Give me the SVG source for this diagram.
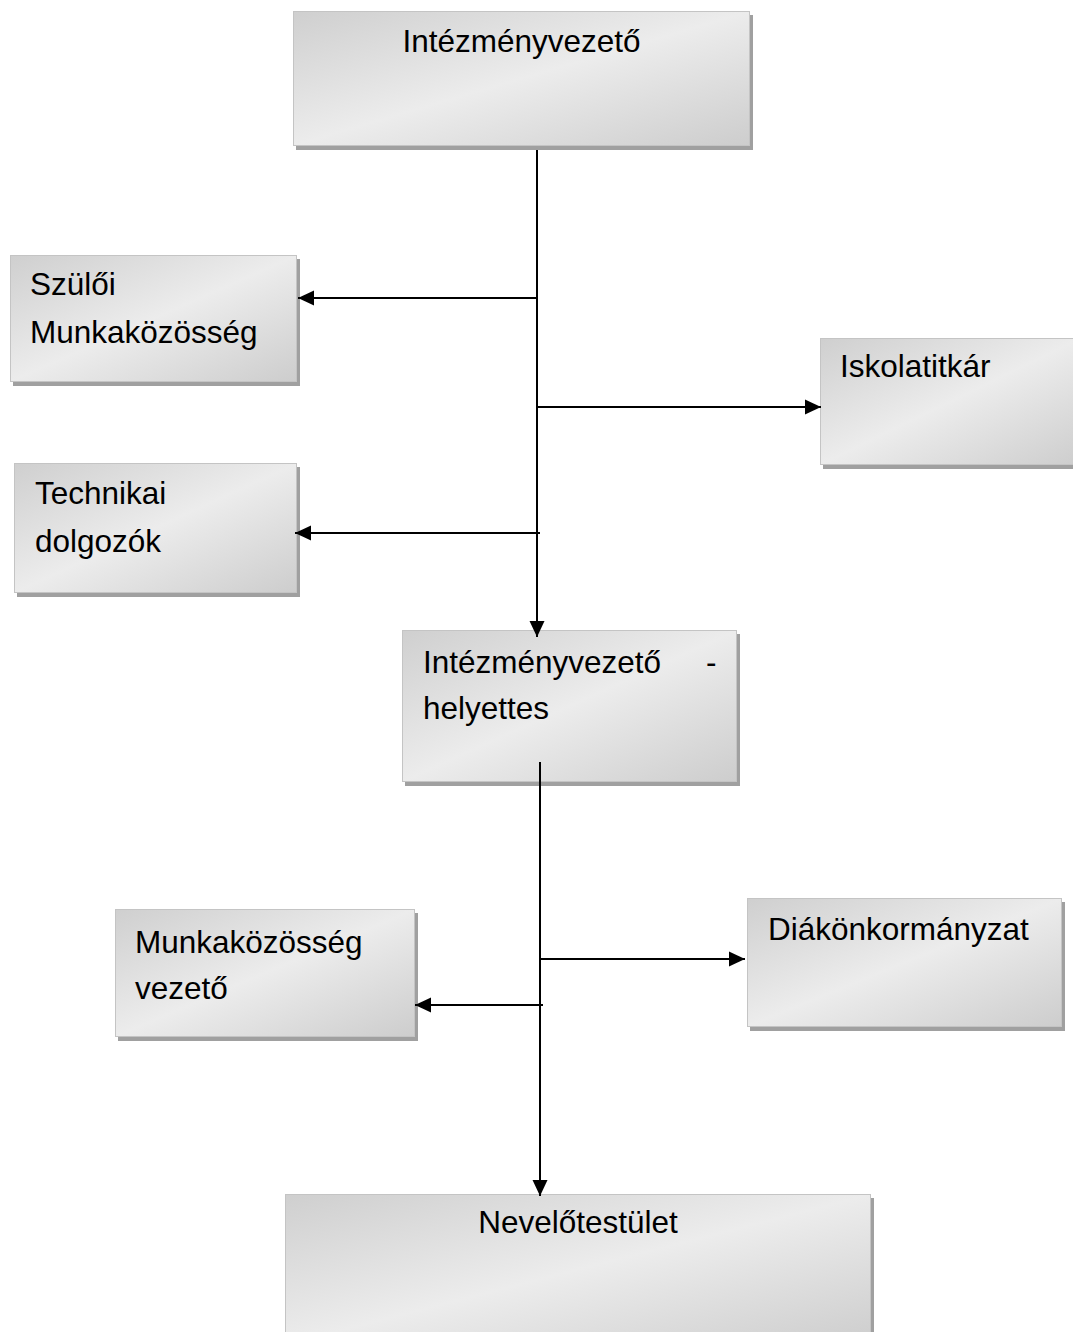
<svg xmlns="http://www.w3.org/2000/svg" width="1073" height="1332" viewBox="0 0 1073 1332">
<style>
.box{fill:url(#g);stroke:#c4c4c4;stroke-width:1}
.sh{fill:#a0a0a0}
.t{font-family:"Liberation Sans",Arial,sans-serif;font-size:31.5px;fill:#000}
.c{stroke:#000;stroke-width:2;fill:none;marker-end:url(#a)}
</style>
<defs>
<linearGradient id="g" x1="0" y1="0" x2="1" y2="1">
<stop offset="0" stop-color="#cfcfcf"/>
<stop offset="0.5" stop-color="#ececec"/>
<stop offset="1" stop-color="#cdcdcd"/>
</linearGradient>
<marker id="a" markerUnits="userSpaceOnUse" markerWidth="18" markerHeight="18" viewBox="0 0 18 18" refX="16" refY="9" orient="auto">
<path d="M0 1.5 L16 9 L0 16.5 Z" fill="#000"/>
</marker>
</defs>
<rect width="1073" height="1332" fill="#fff"/>
<g id="n1">
<rect class="sh" x="296" y="15" width="457" height="135"/>
<rect class="box" x="293.5" y="11.5" width="456" height="134"/>
<text class="t" x="521.5" y="52" text-anchor="middle">Intézményvezető</text>
</g>
<g id="n2">
<rect class="sh" x="13" y="259" width="287" height="127"/>
<rect class="box" x="10.5" y="255.5" width="286" height="126"/>
<text class="t" x="30" y="295">Szülői</text>
<text class="t" x="30" y="343">Munkaközösség</text>
</g>
<g id="n3">
<rect class="sh" x="823" y="342" width="260" height="127"/>
<rect class="box" x="820.5" y="338.5" width="260" height="126"/>
<text class="t" x="840" y="377">Iskolatitkár</text>
</g>
<g id="n4">
<rect class="sh" x="17" y="467" width="283" height="130"/>
<rect class="box" x="14.5" y="463.5" width="282" height="129"/>
<text class="t" x="35" y="504">Technikai</text>
<text class="t" x="35" y="552">dolgozók</text>
</g>
<g id="n5">
<rect class="sh" x="405" y="634" width="335" height="152"/>
<rect class="box" x="402.5" y="630.5" width="334" height="151"/>
<text class="t" x="423" y="673">Intézményvezető</text>
<text class="t" x="706" y="673">-</text>
<text class="t" x="423" y="719">helyettes</text>
</g>
<g id="n6">
<rect class="sh" x="118" y="913" width="300" height="128"/>
<rect class="box" x="115.5" y="909.5" width="299" height="127"/>
<text class="t" x="135" y="953">Munkaközösség</text>
<text class="t" x="135" y="999">vezető</text>
</g>
<g id="n7">
<rect class="sh" x="750" y="902" width="315" height="129"/>
<rect class="box" x="747.5" y="898.5" width="314" height="128"/>
<text class="t" x="768" y="940">Diákönkormányzat</text>
</g>
<g id="n8">
<rect class="sh" x="288" y="1198" width="586" height="150"/>
<rect class="box" x="285.5" y="1194.5" width="585" height="150"/>
<text class="t" x="578" y="1233" text-anchor="middle">Nevelőtestület</text>
</g>
<g id="connectors">
<line class="c" x1="537" y1="150" x2="537" y2="637"/>
<line class="c" x1="538" y1="298" x2="298" y2="298"/>
<line class="c" x1="537" y1="407" x2="821" y2="407"/>
<line class="c" x1="540" y1="533" x2="295" y2="533"/>
<line class="c" x1="540" y1="762" x2="540" y2="1196"/>
<line class="c" x1="540" y1="959" x2="745" y2="959"/>
<line class="c" x1="543" y1="1005" x2="415" y2="1005"/>
</g>
</svg>
